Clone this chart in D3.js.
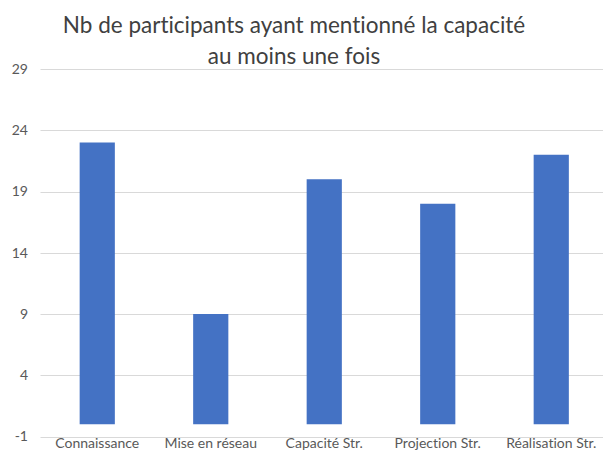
<!DOCTYPE html>
<html><head><meta charset="utf-8">
<script src="https://cdn.jsdelivr.net/npm/d3@7"></script>
<style>body{margin:0;background:#fff}svg{display:block}text{font-variant-ligatures:none;font-feature-settings:"liga" 0}</style>
</head><body>
<svg id="c" width="603" height="452"></svg>
<script>
const categories = ["Connaissance", "Mise en réseau", "Capacité Str.", "Projection Str.", "Réalisation Str."];
const values = [23, 9, 20, 18, 22];
const yTicks = [-1, 4, 9, 14, 19, 24, 29];
const titleLines = ["Nb de participants ayant mentionné la capacité", "au moins une fois"];

(function () {
const svg = d3.select("#c");
const font = "Lato, 'Open Sans', sans-serif";
const mLeft = 40.5, mRight = 608, mTop = 69, mBottom = 436.5;

const x = d3.scaleBand().domain(categories).range([mLeft, mRight]).paddingInner(0.69).paddingOuter(0.345);
const y = d3.scaleLinear().domain([-1, 29]).range([mBottom, mTop]);

// gridlines
svg.append("g").selectAll("line").data(yTicks).join("line")
  .attr("x1", mLeft).attr("x2", 603)
  .attr("y1", d => Math.round(y(d)) + 0.5).attr("y2", d => Math.round(y(d)) + 0.5)
  .attr("stroke", "#d9d9d9").attr("stroke-width", 1);

// y axis labels
const yAxis = d3.axisLeft(y).tickValues(yTicks).tickSize(0).tickPadding(0).tickFormat(d => String(d));
const ya = svg.append("g").attr("transform", `translate(28,0)`).call(yAxis);
ya.select(".domain").remove();
ya.selectAll("text").attr("font-family", font).attr("font-size", 14).attr("fill", "#595959");

// bars
svg.append("g").selectAll("rect").data(values).join("rect")
  .attr("x", (d, i) => x(categories[i]))
  .attr("width", x.bandwidth())
  .attr("y", d => y(d))
  .attr("height", d => y(0) - y(d))
  .attr("fill", "#4472C4");

// x axis labels
const xAxis = d3.axisBottom(x).tickSize(0).tickPadding(0);
const xa = svg.append("g").attr("transform", `translate(0,${mBottom + 2})`).call(xAxis);
xa.select(".domain").remove();
xa.selectAll("text").attr("font-family", font).attr("font-size", 14).attr("fill", "#595959");

// title
svg.append("g").selectAll("text").data(titleLines).join("text")
  .attr("x", 294).attr("y", (d, i) => 33 + i * 31)
  .attr("text-anchor", "middle")
  .attr("font-family", font).attr("font-size", 22.5).attr("fill", "#404040")
  .text(d => d);
})();
</script>
</body></html>
